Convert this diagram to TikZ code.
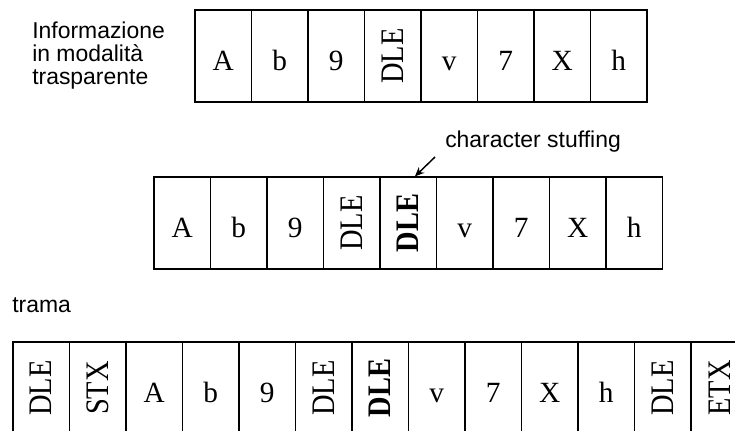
\documentclass[tikz,border=0pt]{standalone}
\usepackage{fontspec}
\setmainfont{Liberation Serif}
\newfontfamily\sansfont{Liberation Sans}
\usetikzlibrary{positioning, arrows.meta}

% testo verticale, centrato nella cella
\newsavebox\cellbox
\newcommand{\vtxt}[1]{\sbox\cellbox{\rotatebox{90}{\scalebox{0.97}[1.12]{#1}}}%
    \raisebox{\dimexpr10.5pt-.5\ht\cellbox\relax}[0pt][0pt]{\usebox\cellbox}}
\newcommand{\vbf}[1]{\vtxt{\bfseries #1}}

\begin{document}
\begin{tikzpicture}[x=0.75pt, y=-0.75pt, >={Stealth[length=7pt, width=6pt]},
    cell/.style={draw, line width=0.9pt, inner sep=0pt,
        minimum width=42.4pt, minimum height=69pt,
        text height=21pt, text depth=0pt,
        font=\fontsize{22}{26}\selectfont},
    lbl/.style={font=\sansfont\fontsize{17.2}{17}\selectfont, align=left, inner sep=0pt}]
            \useasboundingbox (0,0) rectangle (735,430);
            \clip (0,0) rectangle (735,430);

            % Informazione originale
            \node[lbl, anchor=west] (info) at (32,55.5) {Informazione\\in modalità\\trasparente};
            \foreach \c [count=\i] in {A,b,9,{\vtxt{DLE}},v,7,X,h}
                \node[cell] (top\i) at ({195+56.5*(\i-0.5)},56) {\c};

            % Dopo il character stuffing
            \foreach \c [count=\i] in {A,b,9,{\vtxt{DLE}},{\vbf{DLE}},v,7,X,h}
                \node[cell] (mid\i) at ({154+56.5*(\i-0.5)},223) {\c};
            \node[lbl, anchor=base west] (stuff) at (445,147) {character stuffing};
            \coordinate (stuffTail) at (435,157);
            \draw[->, line width=1.1pt] (stuffTail) -- ([xshift=5pt]mid5.north);

            % Trama completa
            \node[lbl, anchor=base west] (trama) at (12,312) {trama};
            \foreach \c [count=\i] in {{\vtxt{DLE}},{\vtxt{STX}},A,b,9,{\vtxt{DLE}},{\vbf{DLE}},v,7,X,h,{\vtxt{DLE}},{\vtxt{ETX}}}
                \node[cell] (tr\i) at ({13+56.5*(\i-0.5)},388) {\c};
        \end{tikzpicture}
\end{document}
